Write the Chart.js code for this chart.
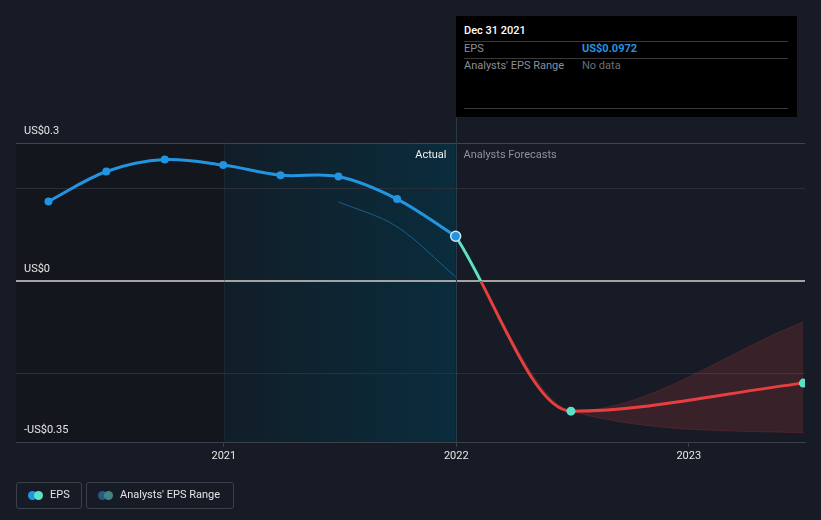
<!DOCTYPE html>
<html>
<head>
<meta charset="utf-8">
<script src="https://cdn.jsdelivr.net/npm/chart.js@4.4.0/dist/chart.umd.min.js"></script>
<style>
  body { margin: 0; background: #161b25; font-family: Roboto, sans-serif; }
  #wrap { position: relative; width: 821px; height: 520px; overflow: hidden; }
  #chart { position: absolute; left: 0; top: 0; }
  .tip { position: absolute; left: 456px; top: 16px; width: 341px; height: 101px; background: #000; font-size: 11px; }
  .tip div { position: absolute; white-space: nowrap; line-height: 14px; }
  .tip .sep { height: 1px; left: 8px; width: 324px; background: #3a3a3a; }
  .legend { position: absolute; top: 482px; height: 25px; border: 1px solid #3b4049; border-radius: 3px; font-size: 11px; color: #e4e4e4; }
  .legend .dot { position: absolute; top: 8px; width: 9px; height: 9px; border-radius: 50%; }
  .legend span { position: absolute; top: 5px; white-space: nowrap; line-height: 14px; }
</style>
</head>
<body>
<div id="wrap">
  <canvas id="chart" width="821" height="520"></canvas>

  <div class="tip">
    <div style="left:8px;top:8px;color:#fff;font-weight:500;">Dec 31 2021</div>
    <div class="sep" style="top:25px;"></div>
    <div style="left:8px;top:26px;color:#8a8f98;">EPS</div>
    <div style="left:126px;top:26px;color:#2394df;font-weight:700;">US$0.0972</div>
    <div class="sep" style="top:42px;"></div>
    <div style="left:8px;top:43px;color:#8a8f98;">Analysts' EPS Range</div>
    <div style="left:126px;top:43px;color:#6a6f78;">No data</div>
    <div class="sep" style="top:92px;"></div>
  </div>

  <div class="legend" style="left:16px;width:64px;">
    <div class="dot" style="left:11px;background:#2394df;"></div>
    <div class="dot" style="left:17px;background:#5ce0c6;"></div>
    <span style="left:33px;">EPS</span>
  </div>
  <div class="legend" style="left:86px;width:146px;">
    <div class="dot" style="left:11px;background:#275a80;"></div>
    <div class="dot" style="left:17px;background:#3f8682;"></div>
    <span style="left:33px;">Analysts' EPS Range</span>
  </div>
</div>

<script>
// EPS history (reported) and analyst forecasts
const actualDates = ['2020-03-31', '2020-06-30', '2020-09-30', '2020-12-31', '2021-03-31', '2021-06-30', '2021-09-30', '2021-12-31'];
const actualEps = [0.173, 0.238, 0.264, 0.252, 0.230, 0.227, 0.178, 0.0972];

const forecastDates = ['2021-12-31', '2022-06-30', '2023-06-30'];
const forecastEps = [0.0972, -0.283, -0.222];
const rangeHigh = [0.0972, -0.283, -0.089];
const rangeLow = [0.0972, -0.283, -0.330];

const pastEstDates = ['2021-06-30', '2021-09-30', '2021-12-31'];
const pastEstEps = [0.172, 0.118, 0.009];

const xTickYears = [2021, 2022, 2023];
const yTickValues = [-0.35, -0.2, 0, 0.2, 0.3];
const yTickLabels = ['-US$0.35', '', 'US$0', '', 'US$0.3'];

const BLUE = '#2394df', TEAL = '#5ce0c6', RED = '#e5403f';

function toYear(s) {
  const d = new Date(s + 'T00:00:00Z');
  const y = d.getUTCFullYear();
  const a = Date.UTC(y, 0, 1), b = Date.UTC(y + 1, 0, 1);
  return y + (d.getTime() - a) / (b - a);
}
const pts = (dates, vals) => dates.map((d, i) => ({ x: toYear(d), y: vals[i] }));

Chart.defaults.font.family = 'Roboto, sans-serif';
Chart.defaults.font.size = 11;

const shading = {
  id: 'shading',
  beforeDraw(chart) {
    const { ctx, chartArea: a, scales: { x } } = chart;
    const x21 = x.getPixelForValue(2021), x22 = x.getPixelForValue(toYear('2021-12-31'));
    ctx.save();
    ctx.fillStyle = '#13161d';
    ctx.fillRect(a.left, a.top, x21 - a.left, a.bottom - a.top);
    const g = ctx.createLinearGradient(x21, 0, x22, 0);
    g.addColorStop(0, '#111e28');
    g.addColorStop(1, '#0a2c3c');
    ctx.fillStyle = g;
    ctx.fillRect(x21, a.top, x22 - x21, a.bottom - a.top);
    ctx.restore();
  },
  beforeDatasetsDraw(chart) {
    const { ctx, chartArea: a, scales: { x } } = chart;
    const x21 = Math.round(x.getPixelForValue(2021)) + 0.5;
    const x22 = Math.round(x.getPixelForValue(toYear('2021-12-31'))) + 0.5;
    ctx.save();
    ctx.lineWidth = 1;
    ctx.strokeStyle = 'rgba(30,60,75,0.35)';
    ctx.beginPath(); ctx.moveTo(x21, a.top); ctx.lineTo(x21, a.bottom); ctx.stroke();
    ctx.strokeStyle = '#2b3a47';
    ctx.beginPath(); ctx.moveTo(x22, 117); ctx.lineTo(x22, a.bottom); ctx.stroke();
    ctx.font = '11px Roboto, sans-serif';
    ctx.textBaseline = 'middle';
    ctx.textAlign = 'right';
    ctx.fillStyle = '#f0f0f0';
    ctx.fillText('Actual', x22 - 10, a.top + 12);
    ctx.textAlign = 'left';
    ctx.fillStyle = '#8e939b';
    ctx.fillText('Analysts Forecasts', x22 + 7, a.top + 12);
    ctx.restore();
  }
};

function forecastColor(c) {
  const { chart } = c;
  const a = chart.chartArea;
  if (!a) return TEAL;
  const z = chart.scales.y.getPixelForValue(0);
  const f = Math.min(1, Math.max(0, (z - a.top) / (a.bottom - a.top)));
  const g = chart.ctx.createLinearGradient(0, a.top, 0, a.bottom);
  g.addColorStop(0, TEAL); g.addColorStop(f, TEAL);
  g.addColorStop(f, RED); g.addColorStop(1, RED);
  return g;
}

new Chart(document.getElementById('chart'), {
  type: 'line',
  data: {
    datasets: [
      {
        label: 'EPS',
        data: pts(actualDates, actualEps),
        borderColor: BLUE, borderWidth: 3, tension: 0.35,
        pointBackgroundColor: BLUE,
        pointRadius: c => c.dataIndex === actualEps.length - 1 ? 5 : 4,
        pointBorderWidth: c => c.dataIndex === actualEps.length - 1 ? 1.5 : 0,
        pointBorderColor: '#cfe6f5'
      },
      {
        label: 'EPS forecast',
        data: pts(forecastDates, forecastEps),
        borderColor: forecastColor, borderWidth: 3,
        cubicInterpolationMode: 'monotone',
        pointRadius: [0, 4.5, 4.5], pointBorderWidth: 0,
        pointBackgroundColor: TEAL
      },
      {
        label: 'Earlier estimate',
        data: pts(pastEstDates, pastEstEps),
        borderColor: 'rgba(35,148,223,0.5)', borderWidth: 1,
        cubicInterpolationMode: 'monotone',
        pointRadius: 0
      },
      {
        label: 'Range high',
        data: pts(forecastDates, rangeHigh),
        borderColor: 'rgba(229,64,63,0.18)', borderWidth: 1,
        backgroundColor: 'rgba(229,64,63,0.17)', fill: '+1',
        cubicInterpolationMode: 'monotone', pointRadius: 0
      },
      {
        label: 'Range low',
        data: pts(forecastDates, rangeLow),
        borderColor: 'rgba(229,64,63,0.18)', borderWidth: 1,
        cubicInterpolationMode: 'monotone', pointRadius: 0
      }
    ]
  },
  options: {
    responsive: false, animation: false, events: [],
    layout: { padding: { left: 16, right: 16, top: 143, bottom: 58 } },
    plugins: { legend: { display: false }, tooltip: { enabled: false } },
    scales: {
      x: {
        type: 'linear', min: 2020.106, max: 2023.5,
        afterBuildTicks: s => { s.ticks = xTickYears.map(v => ({ value: v })); },
        afterFit: s => { s.height = 20; },
        grid: { drawOnChartArea: false, drawTicks: true, tickLength: 5, color: '#3b4049' },
        border: { display: true, color: '#3b4049' },
        ticks: { color: '#e6e6e6', padding: 3, maxRotation: 0, callback: v => String(v) }
      },
      y: {
        min: -0.35, max: 0.3,
        afterBuildTicks: s => { s.ticks = yTickValues.map(v => ({ value: v })); },
        afterFit: s => { s.width = 0; },
        border: { display: false },
        grid: {
          drawTicks: false,
          color: c => c.tick && c.tick.value === 0 ? '#a3a3a3' : (c.tick && c.tick.value === 0.3 ? '#3f444c' : '#2a2f38'),
          lineWidth: c => c.tick && c.tick.value === 0 ? 2 : 1
        },
        ticks: {
          mirror: true, padding: 8, labelOffset: -12, color: '#e6e6e6',
          callback: (v, i) => yTickLabels[i]
        }
      }
    }
  },
  plugins: [shading]
});
</script>
</body>
</html>
